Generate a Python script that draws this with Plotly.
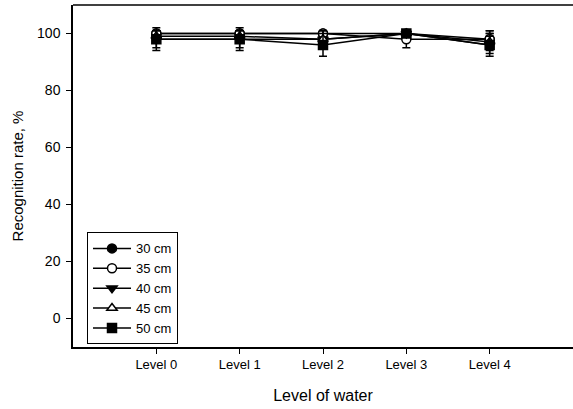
import plotly.graph_objects as go

levels = ["Level 0", "Level 1", "Level 2", "Level 3", "Level 4"]
series_names = ["30 cm", "35 cm", "40 cm", "45 cm", "50 cm"]
rate_30 = [100, 100, 100, 100, 98]
rate_35 = [100, 100, 100, 98, 98]
rate_40 = [98, 98, 98, 100, 96]
rate_45 = [99, 99, 98, 100, 97]
rate_50 = [98, 98, 96, 100, 96]
err_30 = [1, 1, 1, 1, 3]
err_35 = [1, 1, 1, 3, 3]
err_40 = [3, 3, 3, 1, 3]
err_45 = [2, 2, 3, 1, 3]
err_50 = [4, 4, 4, 1, 4]
y_ticks = [0, 20, 40, 60, 80, 100]

values = [rate_30, rate_35, rate_40, rate_45, rate_50]
errors = [err_30, err_35, err_40, err_45, err_50]
symbols = ["circle", "circle", "triangle-down", "triangle-up", "square"]
fills = ["black", "white", "black", "white", "black"]

fig = go.Figure()
xs = list(range(len(levels)))
for name, v, e, s, f in zip(series_names, values, errors, symbols, fills):
    fig.add_trace(go.Scatter(
        x=xs, y=v, name=name, mode="lines+markers",
        line=dict(color="black", width=1.5),
        marker=dict(symbol=s, size=9, color=f, line=dict(color="black", width=1.5)),
        error_y=dict(type="data", array=e, color="black", thickness=1.5, width=4),
    ))

font = "Liberation Sans, Arial, sans-serif"
fig.update_layout(
    width=573, height=409,
    margin=dict(l=73, r=0, t=5, b=62),
    paper_bgcolor="white", plot_bgcolor="white",
    font=dict(family=font, color="black", size=12),
    showlegend=True,
    legend=dict(x=0.028, y=0.335, xanchor="left", yanchor="top",
                bordercolor="black", borderwidth=1, bgcolor="white",
                font=dict(size=13, family=font), tracegroupgap=0,
                itemwidth=38),
    xaxis=dict(range=[-1, 5], tickmode="array", tickvals=xs, ticktext=levels,
               showline=True, linecolor="black", linewidth=1.5, ticks="outside",
               ticklen=5, tickcolor="black", showgrid=False, zeroline=False,
               tickfont=dict(size=13, family=font),
               title=dict(text="Level of water", font=dict(size=16, family=font), standoff=18)),
    yaxis=dict(range=[-10, 110], tickvals=y_ticks,
               showline=True, linecolor="black", linewidth=1.5, ticks="outside",
               ticklen=5, tickcolor="black", showgrid=False, zeroline=False,
               ticklabelstandoff=3,
               tickfont=dict(size=14, family=font),
               title=dict(text="Recognition rate, %", font=dict(size=15, family=font), standoff=10)),
    shapes=[dict(type="line", xref="paper", yref="paper", x0=0, x1=1, y0=1, y1=1,
                 line=dict(color="black", width=1.5))],
)
fig.write_html("out.html")
